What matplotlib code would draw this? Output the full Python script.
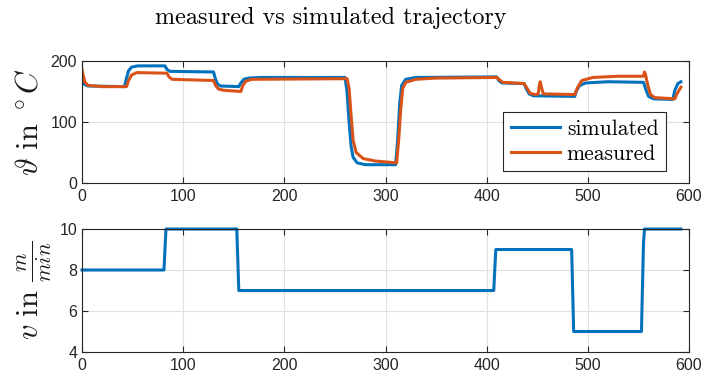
import matplotlib
matplotlib.use("Agg")
import matplotlib.pyplot as plt

plt.rcParams['mathtext.fontset'] = 'cm'
plt.rcParams['font.family'] = ['Liberation Sans', 'DejaVu Sans']

# simulated temperature (time s, value °C)
t_sim = [0, 2, 6, 42, 44, 46, 49, 55, 82, 84, 87, 130, 132, 134, 137, 155, 157, 160, 165, 175,
         260, 262, 264, 266, 268, 272, 280, 310, 312, 314, 316, 320, 330, 410, 412, 415, 437,
         439, 442, 446, 487, 489, 492, 498, 520, 555, 557, 560, 565, 584, 586, 589, 592]
theta_sim = [166, 162, 159, 158, 172, 184, 190, 192, 192, 186, 183, 182, 170, 162, 159, 158, 164, 170, 172, 173,
             173, 150, 100, 60, 42, 33, 30, 30, 70, 130, 160, 170, 173, 174, 168, 164, 163,
             155, 146, 143, 142, 152, 160, 164, 166, 165, 155, 142, 138, 137, 152, 163, 166]

# measured temperature
t_meas = [0, 1, 3, 6, 20, 44, 46, 49, 54, 84, 86, 89, 130, 132, 135, 140, 157, 159, 162, 168,
          262, 264, 266, 268, 271, 278, 290, 311, 313, 315, 317, 320, 330, 350, 410, 412, 416,
          437, 440, 443, 448, 451, 452, 453, 454, 456, 487, 490, 494, 505, 530, 555, 556, 557,
          559, 562, 566, 586, 588, 592]
theta_meas = [186, 178, 165, 160, 158, 158, 168, 177, 181, 180, 174, 170, 168, 160, 154, 152, 150, 160, 167, 170,
              171, 155, 110, 70, 50, 40, 36, 33, 70, 120, 155, 165, 170, 172, 173, 170, 165,
              163, 155, 147, 145, 146, 160, 166, 158, 146, 145, 157, 168, 173, 175, 175, 182, 178,
              162, 145, 140, 138, 146, 157]

# velocity
t_v = [0, 81, 83, 153, 155, 407, 409, 484, 486, 553, 555, 556, 592]
v = [8, 8, 10, 10, 7, 7, 9, 9, 5, 5, 9.3, 10, 10]

x_ticks = [0, 100, 200, 300, 400, 500, 600]
theta_ticks = [0, 100, 200]
v_ticks = [4, 6, 8, 10]

blue = '#0072BD'
orange = '#D95319'
tick_col = '#262626'

fig = plt.figure(figsize=(7.13, 3.86), dpi=100)
ax1 = fig.add_axes([82/713, 1-183/386, 607/713, 122/386])
ax2 = fig.add_axes([82/713, 1-352/386, 607/713, 123/386])

ax1.plot(t_sim, theta_sim, color=blue, lw=2.2, label='simulated')
ax1.plot(t_meas, theta_meas, color=orange, lw=2.2, label='measured')
ax2.plot(t_v, v, color=blue, lw=2.2, clip_on=False)

for ax, yt in ((ax1, theta_ticks), (ax2, v_ticks)):
    ax.set_xlim(0, 600)
    ax.set_ylim(yt[0], yt[-1])
    ax.set_xticks(x_ticks)
    ax.set_yticks(yt)
    ax.grid(True, color='#e0e0e0', lw=0.8)
    ax.set_axisbelow(True)
    ax.tick_params(direction='in', top=True, right=True, colors=tick_col,
                   labelsize=11.5, length=4, width=0.8)
    ax.tick_params(axis='x', pad=4)
    for s in ax.spines.values():
        s.set_color('#262626')
        s.set_linewidth(0.8)

ax1.set_ylabel(r'$\vartheta\ \mathrm{in}\ ^\circ C$', fontsize=22, color='#1a1a1a', labelpad=4)
ax2.set_ylabel(r'$v\ \mathrm{in}\ \frac{m}{min}$', fontsize=22, color='#1a1a1a', labelpad=4)

leg = ax1.legend(loc='lower right', bbox_to_anchor=(0.962, 0.098), prop={'family': 'cmr10', 'size': 15.5},
                 fancybox=False, edgecolor='#262626', framealpha=1, borderpad=0.35,
                 handlelength=2.3, handletextpad=0.3, labelspacing=0.25, borderaxespad=0)
leg.get_frame().set_linewidth(0.8)

fig.text(331/713, 1-18/386, 'measured vs simulated trajectory', fontfamily='cmr10', fontsize=17.4,
         ha='center', va='center')

fig.savefig('out.png', dpi=100)
